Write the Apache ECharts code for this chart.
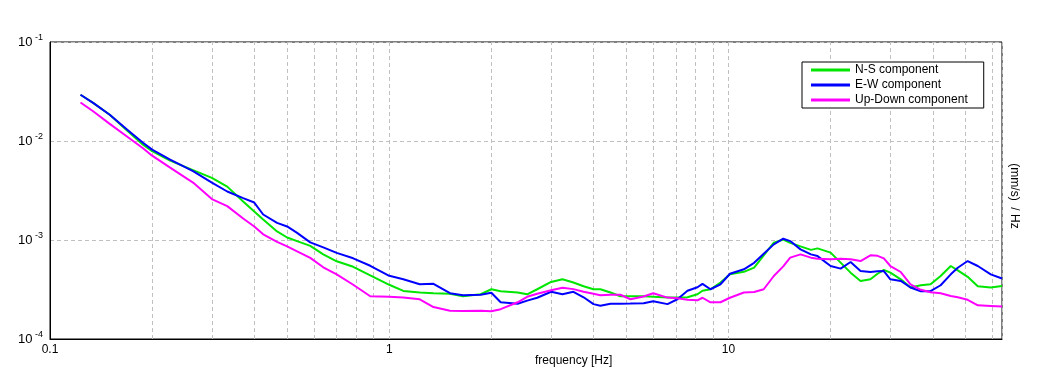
<!DOCTYPE html>
<html>
<head>
<meta charset="utf-8">
<script src="https://cdn.jsdelivr.net/npm/echarts@6/dist/echarts.min.js"></script>
<style>
  html, body { margin: 0; padding: 0; background: #fff; }
  #chart { width: 1051px; height: 382px; }
</style>
</head>
<body>
<div id="chart"></div>
<script>
// frequencies [Hz] shared by the three spectra
const freq = [0.123, 0.134, 0.150, 0.169, 0.188, 0.200, 0.226, 0.264, 0.30, 0.333,
  0.371, 0.40, 0.425, 0.467, 0.50, 0.535, 0.585, 0.639, 0.70, 0.783,
  0.879, 1.0, 1.10, 1.23, 1.35, 1.51, 1.65, 1.86, 2.0, 2.13,
  2.39, 2.55, 2.73, 3.0, 3.24, 3.49, 3.74, 4.0, 4.19, 4.49,
  4.80, 5.14, 5.62, 6.0, 6.61, 7.07, 7.57, 8.10, 8.38, 8.85,
  9.47, 10.1, 11.1, 11.9, 12.7, 13.6, 14.5, 15.2, 16.3, 17.5,
  18.3, 20.0, 21.4, 22.9, 24.5, 26.2, 27.5, 28.7, 30.0, 32.2,
  34.4, 36.9, 39.4, 42.2, 45.2, 47.4, 50.7, 54.3, 59.3, 64.0];

const nsComp = [2.93e-2, 2.43e-2, 1.84e-2, 1.27e-2, 9.18e-3, 7.89e-3, 6.33e-3, 5.08e-3, 4.24e-3, 3.46e-3,
  2.45e-3, 1.94e-3, 1.61e-3, 1.22e-3, 1.06e-3, 9.75e-4, 8.72e-4, 7.16e-4, 6.09e-4, 5.36e-4,
  4.40e-4, 3.53e-4, 3.06e-4, 2.95e-4, 2.90e-4, 2.87e-4, 2.70e-4, 2.83e-4, 3.18e-4, 3.04e-4,
  2.95e-4, 2.83e-4, 3.18e-4, 3.77e-4, 4.01e-4, 3.72e-4, 3.41e-4, 3.18e-4, 3.18e-4, 2.95e-4,
  2.70e-4, 2.70e-4, 2.70e-4, 2.67e-4, 2.62e-4, 2.62e-4, 2.64e-4, 2.83e-4, 3.07e-4, 3.18e-4,
  3.72e-4, 4.50e-4, 4.77e-4, 5.26e-4, 7.00e-4, 9.39e-4, 1.01e-3, 9.35e-4, 8.62e-4, 7.95e-4,
  8.23e-4, 7.45e-4, 5.91e-4, 4.68e-4, 3.86e-4, 4.01e-4, 4.56e-4, 5.00e-4, 4.68e-4, 4.01e-4,
  3.31e-4, 3.49e-4, 3.57e-4, 4.33e-4, 5.46e-4, 4.94e-4, 4.25e-4, 3.41e-4, 3.31e-4, 3.43e-4];

const ewComp = [2.93e-2, 2.43e-2, 1.84e-2, 1.30e-2, 9.61e-3, 8.18e-3, 6.48e-3, 4.97e-3, 3.80e-3, 3.09e-3,
  2.65e-3, 2.39e-3, 1.81e-3, 1.49e-3, 1.37e-3, 1.18e-3, 9.46e-4, 8.42e-4, 7.42e-4, 6.53e-4,
  5.49e-4, 4.35e-4, 4.01e-4, 3.57e-4, 3.61e-4, 2.90e-4, 2.77e-4, 2.80e-4, 2.93e-4, 2.35e-4,
  2.27e-4, 2.44e-4, 2.61e-4, 3.00e-4, 2.83e-4, 3.00e-4, 2.64e-4, 2.25e-4, 2.17e-4, 2.27e-4,
  2.27e-4, 2.28e-4, 2.30e-4, 2.41e-4, 2.25e-4, 2.52e-4, 3.07e-4, 3.33e-4, 3.61e-4, 3.18e-4,
  3.57e-4, 4.56e-4, 5.06e-4, 5.88e-4, 7.25e-4, 9.03e-4, 1.03e-3, 9.75e-4, 8.04e-4, 7.16e-4,
  6.88e-4, 5.46e-4, 5.14e-4, 5.99e-4, 4.86e-4, 4.75e-4, 4.83e-4, 4.86e-4, 4.01e-4, 3.86e-4,
  3.31e-4, 3.04e-4, 3.04e-4, 3.49e-4, 4.50e-4, 5.24e-4, 6.13e-4, 5.46e-4, 4.50e-4, 4.08e-4];

const udComp = [2.45e-2, 2.00e-2, 1.49e-2, 1.105e-2, 8.46e-3, 7.11e-3, 5.38e-3, 3.80e-3, 2.59e-3, 2.20e-3,
  1.65e-3, 1.37e-3, 1.14e-3, 9.57e-4, 8.62e-4, 7.68e-4, 6.60e-4, 5.30e-4, 4.50e-4, 3.53e-4,
  2.70e-4, 2.67e-4, 2.62e-4, 2.52e-4, 2.10e-4, 1.93e-4, 1.92e-4, 1.93e-4, 1.91e-4, 2.00e-4,
  2.35e-4, 2.67e-4, 2.87e-4, 3.11e-4, 3.29e-4, 3.19e-4, 3.00e-4, 2.87e-4, 2.77e-4, 2.80e-4,
  2.80e-4, 2.52e-4, 2.69e-4, 2.90e-4, 2.62e-4, 2.58e-4, 2.49e-4, 2.46e-4, 2.61e-4, 2.35e-4,
  2.35e-4, 2.61e-4, 2.95e-4, 2.98e-4, 3.18e-4, 4.33e-4, 5.42e-4, 6.63e-4, 7.16e-4, 6.63e-4,
  6.45e-4, 6.38e-4, 6.45e-4, 6.38e-4, 6.13e-4, 7.00e-4, 6.92e-4, 6.53e-4, 5.46e-4, 4.75e-4,
  3.57e-4, 3.14e-4, 2.97e-4, 2.90e-4, 2.72e-4, 2.64e-4, 2.49e-4, 2.19e-4, 2.16e-4, 2.13e-4];

// minor vertical grid lines (2..9 per decade)
const minorFreqs = [0.2, 0.3, 0.4, 0.5, 0.6, 0.7, 0.8, 0.9,
  2, 3, 4, 5, 6, 7, 8, 9, 20, 30, 40, 50, 60];

const seriesNames = ['N-S component', 'E-W component', 'Up-Down component'];
const seriesColors = ['#00e600', '#0000ff', '#ff00ff'];
const seriesData = [nsComp, ewComp, udComp];

const font = 'Liberation Sans, Arial, sans-serif';
const gridColor = '#c0c0c0';

const chart = echarts.init(document.getElementById('chart'));

const series = seriesNames.map(function (name, i) {
  return {
    name: name,
    type: 'line',
    z: 3,
    showSymbol: false,
    symbol: 'none',
    lineStyle: { color: seriesColors[i], width: 2 },
    itemStyle: { color: seriesColors[i] },
    data: freq.map(function (f, k) { return [f, seriesData[i][k]]; })
  };
});

series.unshift({
  name: 'minor-grid',
  type: 'line',
  z: 1,
  data: [],
  silent: true,
  markLine: {
    z: 1,
    silent: true,
    symbol: 'none',
    label: { show: false },
    lineStyle: { color: gridColor, type: [4, 3], width: 1 },
    data: minorFreqs.map(function (f) { return { xAxis: f }; })
  }
});

chart.setOption({
  animation: false,
  textStyle: { fontFamily: font },
  grid: {
    left: 50,
    right: 49,
    top: 42,
    bottom: 43,
    show: true,
    borderColor: '#000',
    borderWidth: 1,
    backgroundColor: 'transparent'
  },
  legend: {
    data: seriesNames,
    orient: 'vertical',
    left: 802,
    top: 62,
    z: 10,
    backgroundColor: '#fff',
    borderColor: '#000',
    borderWidth: 1,
    padding: [1, 16, 1, 9],
    itemGap: 1,
    itemWidth: 39,
    itemHeight: 3,
    icon: 'rect',
    textStyle: { fontFamily: font, fontSize: 12, color: '#000', lineHeight: 14 }
  },
  xAxis: {
    type: 'log',
    logBase: 10,
    min: 0.1,
    max: 64,
    axisLine: { show: true, lineStyle: { color: '#000' } },
    axisTick: { show: false },
    axisLabel: {
      showMaxLabel: false,
      margin: 5,
      fontSize: 12,
      color: '#000',
      fontFamily: font
    },
    splitLine: { show: true, lineStyle: { color: gridColor, type: [4, 3] } }
  },
  yAxis: {
    type: 'log',
    logBase: 10,
    min: 0.0001,
    max: 0.1,
    axisLine: { show: true, lineStyle: { color: '#000' } },
    axisTick: { show: false },
    axisLabel: {
      margin: 7,
      formatter: function (v) {
        return '{a|10}{b| ' + Math.round(Math.log10(v)) + '}';
      },
      rich: {
        a: { fontSize: 13, color: '#000', fontFamily: font },
        b: { fontSize: 9, color: '#000', fontFamily: font, padding: [0, 0, 8, 0] }
      }
    },
    splitLine: { show: true, lineStyle: { color: gridColor, type: [4, 3] } }
  },
  graphic: [
    {
      type: 'text',
      x: 535,
      y: 355,
      style: { text: 'frequency [Hz]', font: '12px ' + font, fill: '#000' }
    },
    {
      type: 'text',
      x: 1014,
      y: 196,
      rotation: -Math.PI / 2,
      style: {
        text: '(mm/s)  / Hz',
        font: '12px ' + font,
        fill: '#000',
        align: 'center',
        verticalAlign: 'middle'
      }
    }
  ],
  series: series
});
</script>
</body>
</html>
